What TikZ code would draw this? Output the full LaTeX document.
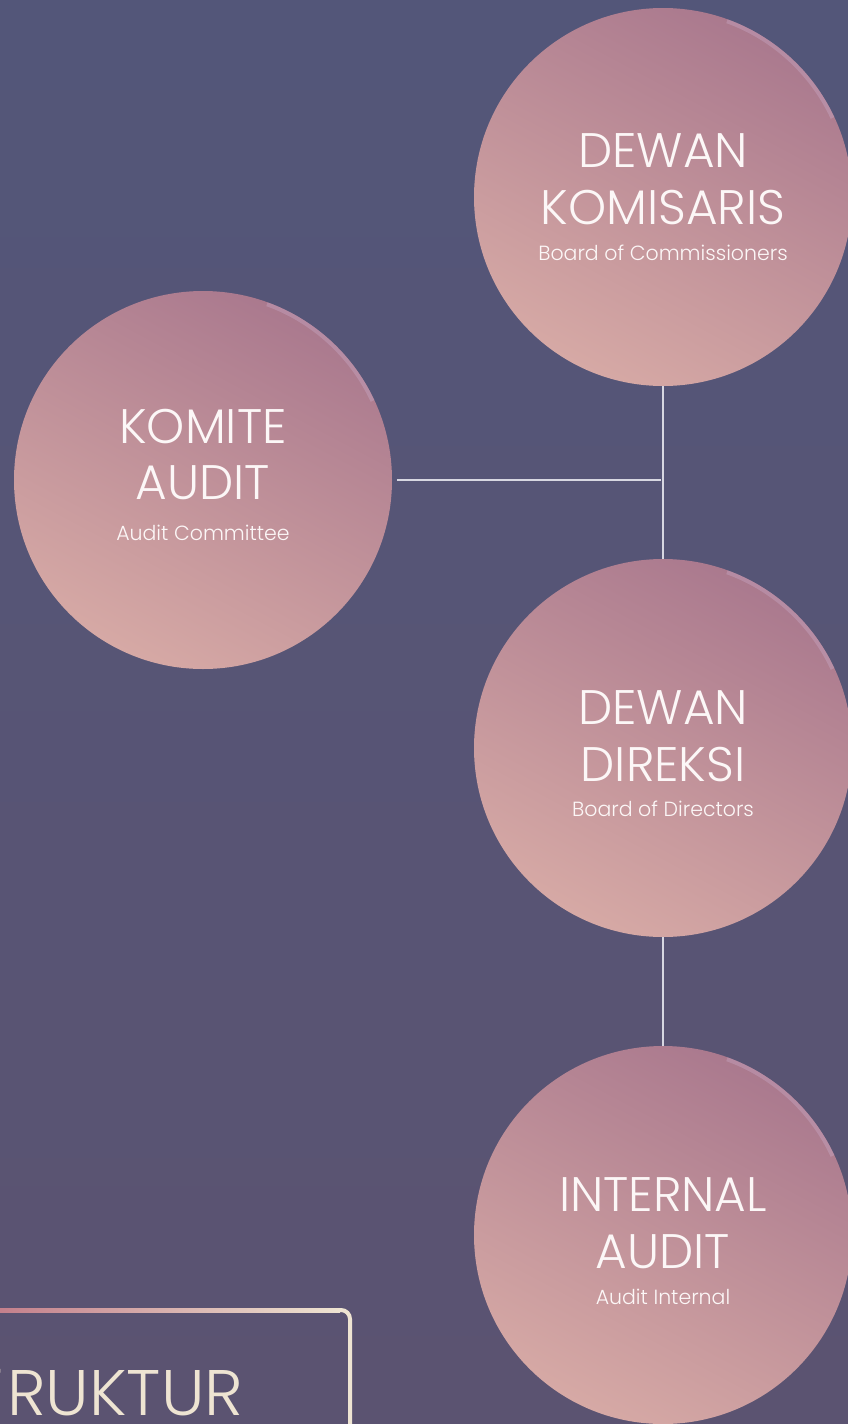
\documentclass[tikz,border=0pt]{standalone}
\usepackage{fontspec}
\usepackage{graphicx}
\usetikzlibrary{calc}
\setmainfont{Poppins Light}
\definecolor{bgtop}{RGB}{83,86,121}
\definecolor{bgbot}{RGB}{91,83,113}
\definecolor{cdark}{RGB}{170,121,142}
\definecolor{clight}{RGB}{214,169,165}
\definecolor{linec}{RGB}{215,215,225}
\definecolor{txt}{RGB}{252,247,247}
\definecolor{cream}{RGB}{238,228,210}
\definecolor{boxpink}{RGB}{196,128,140}
\definecolor{rimc}{RGB}{205,175,205}
\begin{document}
\begin{tikzpicture}[x=1pt,y=-1pt,
  org/.style={circle, minimum size=378pt, inner sep=0pt, shading=axis, top color=cdark, bottom color=clight, shading angle=-28},
  rim/.style={draw=rimc, opacity=0.35, line width=4pt},
  big/.style={text=txt, anchor=base, font=\fontsize{48.5}{48.5}\selectfont, inner sep=0pt},
  small/.style={text=txt, anchor=base, font=\fontsize{20.5}{20.5}\selectfont, inner sep=0pt},
  conn/.style={draw=linec, line width=1.6pt}]
\useasboundingbox (0,0) rectangle (848,1424);
\clip (0,0) rectangle (848,1424);
\shade[top color=bgtop, bottom color=bgbot] (0,0) rectangle (848,1424);
% circles
\node[org] (dk) at (663,197) {};
\node[org] (ka) at (203,480) {};
\node[org] (dd) at (663,748) {};
\node[org] (ia) at (663,1235) {};
% rim highlight
\foreach \n in {dk,ka,dd,ia}{
  \begin{scope}
    \clip (\n.center) -- ($(\n.center)!1.3!(\n.25)$) -- ($(\n.center)!1.3!(\n.45)$) -- ($(\n.center)!1.3!(\n.70)$) -- cycle;
    \draw[rim] (\n.center) circle[radius=187pt];
  \end{scope}
}
% connectors
\coordinate (j) at (661,480);
\draw[conn] (dk.south) -- (dd.north);
\draw[conn] (dd.south) -- (ia.north);
\draw[conn] ([xshift=5pt]ka.east) -- (j);
% texts
\node[big] (t1a) at (663,167) {DEWAN};
\node[big] (t1b) at (663,224) {KOMISARIS};
\node[small] (t1c) at (663,260) {Board of Commissioners};
\node[big] (t2a) at (203,443) {KOMITE};
\node[big] (t2b) at (203,499) {AUDIT};
\node[small] (t2c) at (203,540) {Audit Committee};
\node[big] (t3a) at (663,724) {DEWAN};
\node[big] (t3b) at (663,781) {DIREKSI};
\node[small] (t3c) at (663,816) {Board of Directors};
\node[big] (t4a) at (663,1211) {INTERNAL};
\node[big] (t4b) at (663,1268) {AUDIT};
\node[small] (t4c) at (663,1304) {Audit Internal};
% bottom box
\shade[left color=boxpink, right color=cream] (0,1308) rectangle (340,1312);
\draw[cream, line width=4pt, rounded corners=9pt] (338,1310) -- (350,1310) -- (350,1432);
\node[text=cream, anchor=base west, inner sep=0pt] (title) at (7,1415)
  {\resizebox{236pt}{45pt}{\fontsize{62}{62}\selectfont RUKTUR}};
\node[text=cream, anchor=base east, inner sep=0pt, font=\fontsize{66}{66}\selectfont] (titlest) at ([xshift=-4pt]title.base west) {ST};
\end{tikzpicture}
\end{document}
